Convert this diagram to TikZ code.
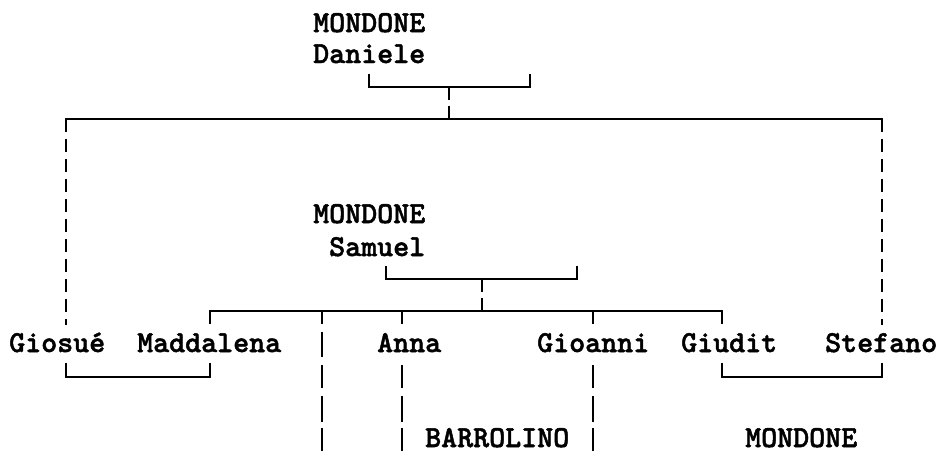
\documentclass[tikz,border=0pt]{standalone}
\usepackage{fontspec}
\newfontfamily\namefont[FakeBold=1.6]{lmmonolt10-bold.otf}

\begin{document}
\begin{tikzpicture}[
  x=1pt, y=-1pt,
  person/.style={anchor=base west, inner sep=0pt, text depth=0pt, font=\namefont\fontsize{30.48}{36}\selectfont},
  link/.style={line width=2pt},
  rail/.style={link, dash pattern=on 13pt off 7pt},
  stem/.style={link, dash pattern=on 13pt off 6pt},
  drop/.style={link, dash pattern=on 23pt off 8pt on 26pt off 6pt on 23pt off 10pt},
  through/.style={link, dash pattern=on 13pt off 8pt on 25pt off 8pt on 23pt off 8pt on 26pt off 6pt on 23pt off 10pt},
]
  \useasboundingbox (0,0) rectangle (938,451);

  % generation 1
  \node[person] (dan-sur) at (313,32) {MONDONE};
  \node[person] (dan) at (313,63) {Daniele};

  % generation 2
  \node[person] (sam-sur) at (313,223) {MONDONE};
  \node[person] (sam) at (329,256) {Samuel};
  \node[person] (giosue) at (9,352) {Giosué};
  \node[person] (madd) at (137,352) {Maddalena};
  \node[person] (anna) at (377,352) {Anna};
  \node[person] (gioanni) at (537,352) {Gioanni};
  \node[person] (giudit) at (681,352) {Giudit};
  \node[person] (stefano) at (825,352) {Stefano};

  % in-laws
  \node[person] (barr) at (425,447) {BARROLINO};
  \node[person] (mond) at (745,447) {MONDONE};

  % junctions
  \coordinate (dan-l) at (369,74);
  \coordinate (dan-m) at (449,87);
  \coordinate (dan-r) at (530,74);
  \coordinate (sib-l) at (65,119);
  \coordinate (sib-m) at (449,119);
  \coordinate (sib-r) at (883,119);
  \coordinate (giosue-t) at (66,325);
  \coordinate (stefano-t) at (882,325);
  \coordinate (sam-l) at (386,266);
  \coordinate (sam-m) at (482,279);
  \coordinate (sam-r) at (577,266);
  \coordinate (kid-l) at (209,311);
  \coordinate (kid-m) at (482,311);
  \coordinate (kid-r) at (723,311);
  \coordinate (madd-t) at (210,324);
  \coordinate (nn-t) at (322,311);
  \coordinate (nn-b) at (322,451);
  \coordinate (anna-t) at (402,311);
  \coordinate (anna-u) at (402,324);
  \coordinate (anna-d) at (402,365);
  \coordinate (anna-b) at (402,451);
  \coordinate (gioanni-t) at (593,311);
  \coordinate (gioanni-u) at (593,324);
  \coordinate (gioanni-d) at (593,365);
  \coordinate (gioanni-b) at (593,451);
  \coordinate (giudit-t) at (722,324);
  \coordinate (wed1-l) at (66,363);
  \coordinate (wed1-m) at (138,377);
  \coordinate (wed1-r) at (210,363);
  \coordinate (wed2-l) at (722,363);
  \coordinate (wed2-m) at (802,377);
  \coordinate (wed2-r) at (882,363);

  % Daniele and his children
  \draw[link] (dan-l) |- (dan-m) -| (dan-r);
  \draw[stem] (dan-m) -- (sib-m);
  \draw[link] (sib-l) -- (sib-r);
  \draw[rail] (sib-l -| giosue-t) -- (giosue-t);
  \draw[rail] (sib-r -| stefano-t) -- (stefano-t);

  % Samuel and his children
  \draw[link] (sam-l) |- (sam-m) -| (sam-r);
  \draw[stem] (sam-m) -- (kid-m);
  \draw[link] (kid-l) -- (kid-r);
  \draw[link] (kid-l -| madd-t) -- (madd-t);
  \draw[through] (nn-t) -- (nn-b);
  \draw[link] (anna-t) -- (anna-u);
  \draw[drop] (anna-d) -- (anna-b);
  \draw[link] (gioanni-t) -- (gioanni-u);
  \draw[drop] (gioanni-d) -- (gioanni-b);
  \draw[link] (kid-r -| giudit-t) -- (giudit-t);

  % marriages
  \draw[link] (wed1-l) |- (wed1-m) -| (wed1-r);
  \draw[link] (wed2-l) |- (wed2-m) -| (wed2-r);
\end{tikzpicture}
\end{document}
